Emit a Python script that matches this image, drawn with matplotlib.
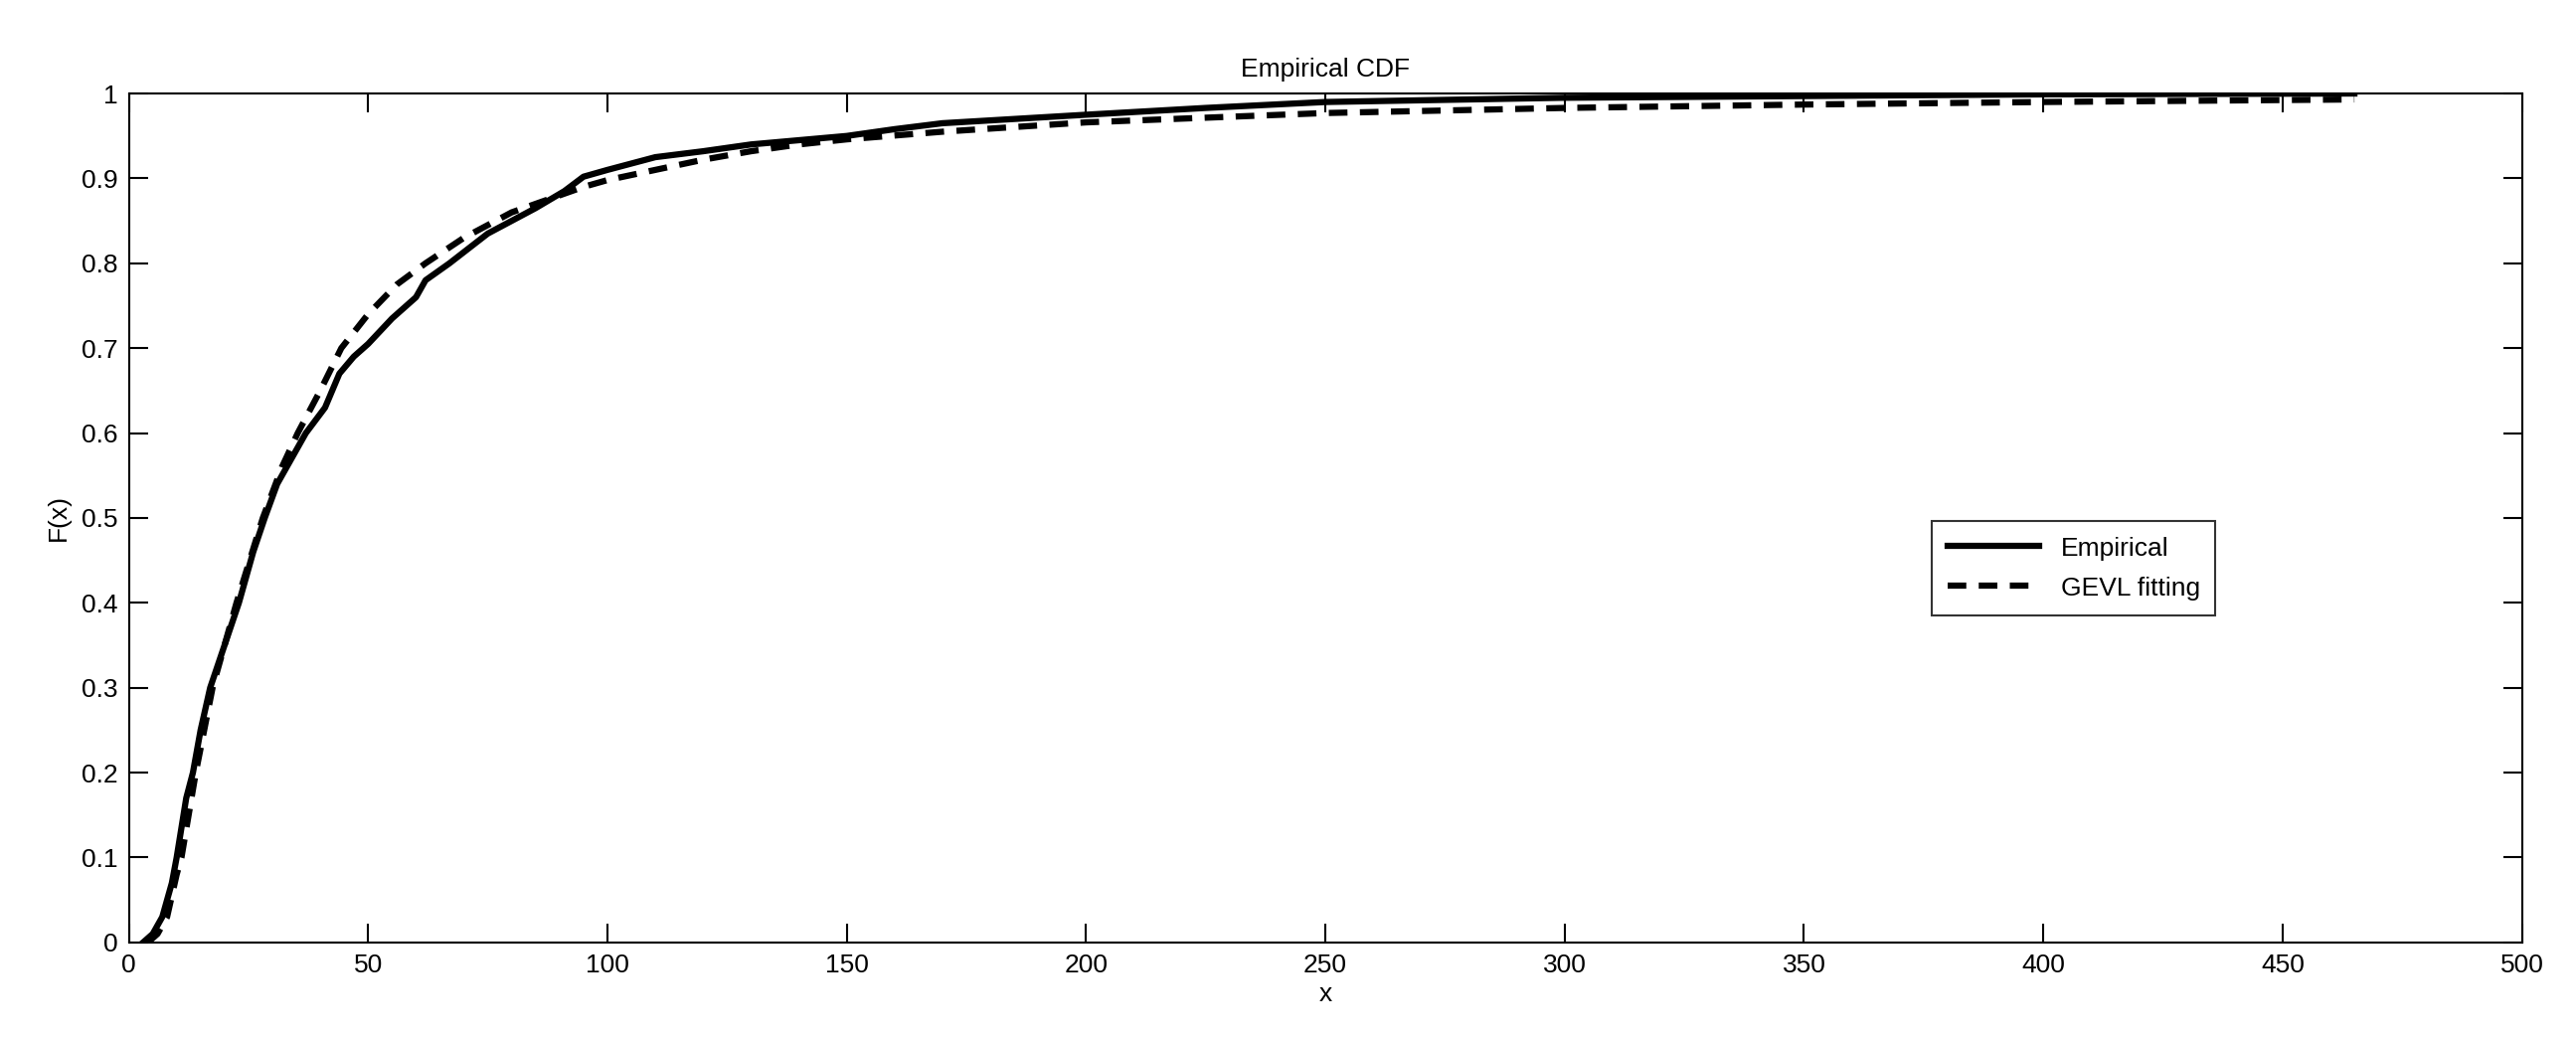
import matplotlib
matplotlib.use("Agg")
import matplotlib.pyplot as plt

plt.rcParams['font.family'] = ['Liberation Sans', 'DejaVu Sans']

emp_x = [3, 5, 7, 9, 10, 12, 13.4, 15, 17, 20, 23, 26, 28.4, 31, 34, 37, 41, 44, 47, 50, 55, 60, 62, 67, 75, 80, 85, 91, 95, 100, 110, 120, 130, 140, 150, 160, 170, 185, 200, 225, 250, 300, 350, 400, 465]
emp_y = [0, 0.01, 0.03, 0.07, 0.1, 0.17, 0.2, 0.25, 0.3, 0.35, 0.4, 0.46, 0.5, 0.54, 0.57, 0.6, 0.63, 0.67, 0.69, 0.705, 0.735, 0.76, 0.78, 0.8, 0.835, 0.85, 0.865, 0.885, 0.902, 0.91, 0.925, 0.932, 0.94, 0.945, 0.95, 0.958, 0.965, 0.97, 0.975, 0.983, 0.99, 0.995, 0.997, 0.999, 1.0]
gev_x = [4, 6, 8, 10, 11, 14, 17.5, 22.5, 28, 32, 35.3, 40, 44.4, 50, 56, 62, 70, 80, 90, 95, 100, 110, 120, 130, 140, 150, 170, 200, 250, 300, 350, 400, 465]
gev_y = [0, 0.01, 0.03, 0.08, 0.1, 0.2, 0.3, 0.4, 0.5, 0.56, 0.6, 0.65, 0.7, 0.74, 0.775, 0.8, 0.83, 0.86, 0.88, 0.89, 0.898, 0.91, 0.922, 0.932, 0.94, 0.946, 0.955, 0.966, 0.977, 0.983, 0.987, 0.99, 0.993]
xticks = [0, 50, 100, 150, 200, 250, 300, 350, 400, 450, 500]
yticks = [0, 0.1, 0.2, 0.3, 0.4, 0.5, 0.6, 0.7, 0.8, 0.9, 1]

fig = plt.figure(figsize=(25.91, 10.45), dpi=100)
ax = fig.add_axes([0.050, 0.093, 0.929, 0.817])
ax.plot(emp_x, emp_y, 'k-', lw=4.5, label='Empirical')
ax.plot(gev_x, gev_y, 'k--', lw=4.5, dashes=(3, 2), label='GEVL fitting')
ax.set_xlim(0, 500)
ax.set_ylim(0, 1)
ax.set_xticks(xticks)
ax.set_yticks(yticks)
ax.set_yticklabels(['0', '0.1', '0.2', '0.3', '0.4', '0.5', '0.6', '0.7', '0.8', '0.9', '1'])
ax.tick_params(direction='in', top=True, right=True, length=14, width=1.5, labelsize=19, pad=8)
for s in ax.spines.values():
    s.set_linewidth(1.5)
ax.set_xlabel('x', fontsize=19, labelpad=4)
ax.set_ylabel('F(x)', fontsize=19, labelpad=8)
ax.set_title('Empirical CDF', fontsize=19, pad=12)
leg = ax.legend(loc='upper left', bbox_to_anchor=(0.748, 0.512), fontsize=19, frameon=True,
                fancybox=False, edgecolor='black', handlelength=3.5, borderpad=0.6, labelspacing=0.6)
leg.get_frame().set_linewidth(1.5)
fig.savefig('out.png', dpi=100)
